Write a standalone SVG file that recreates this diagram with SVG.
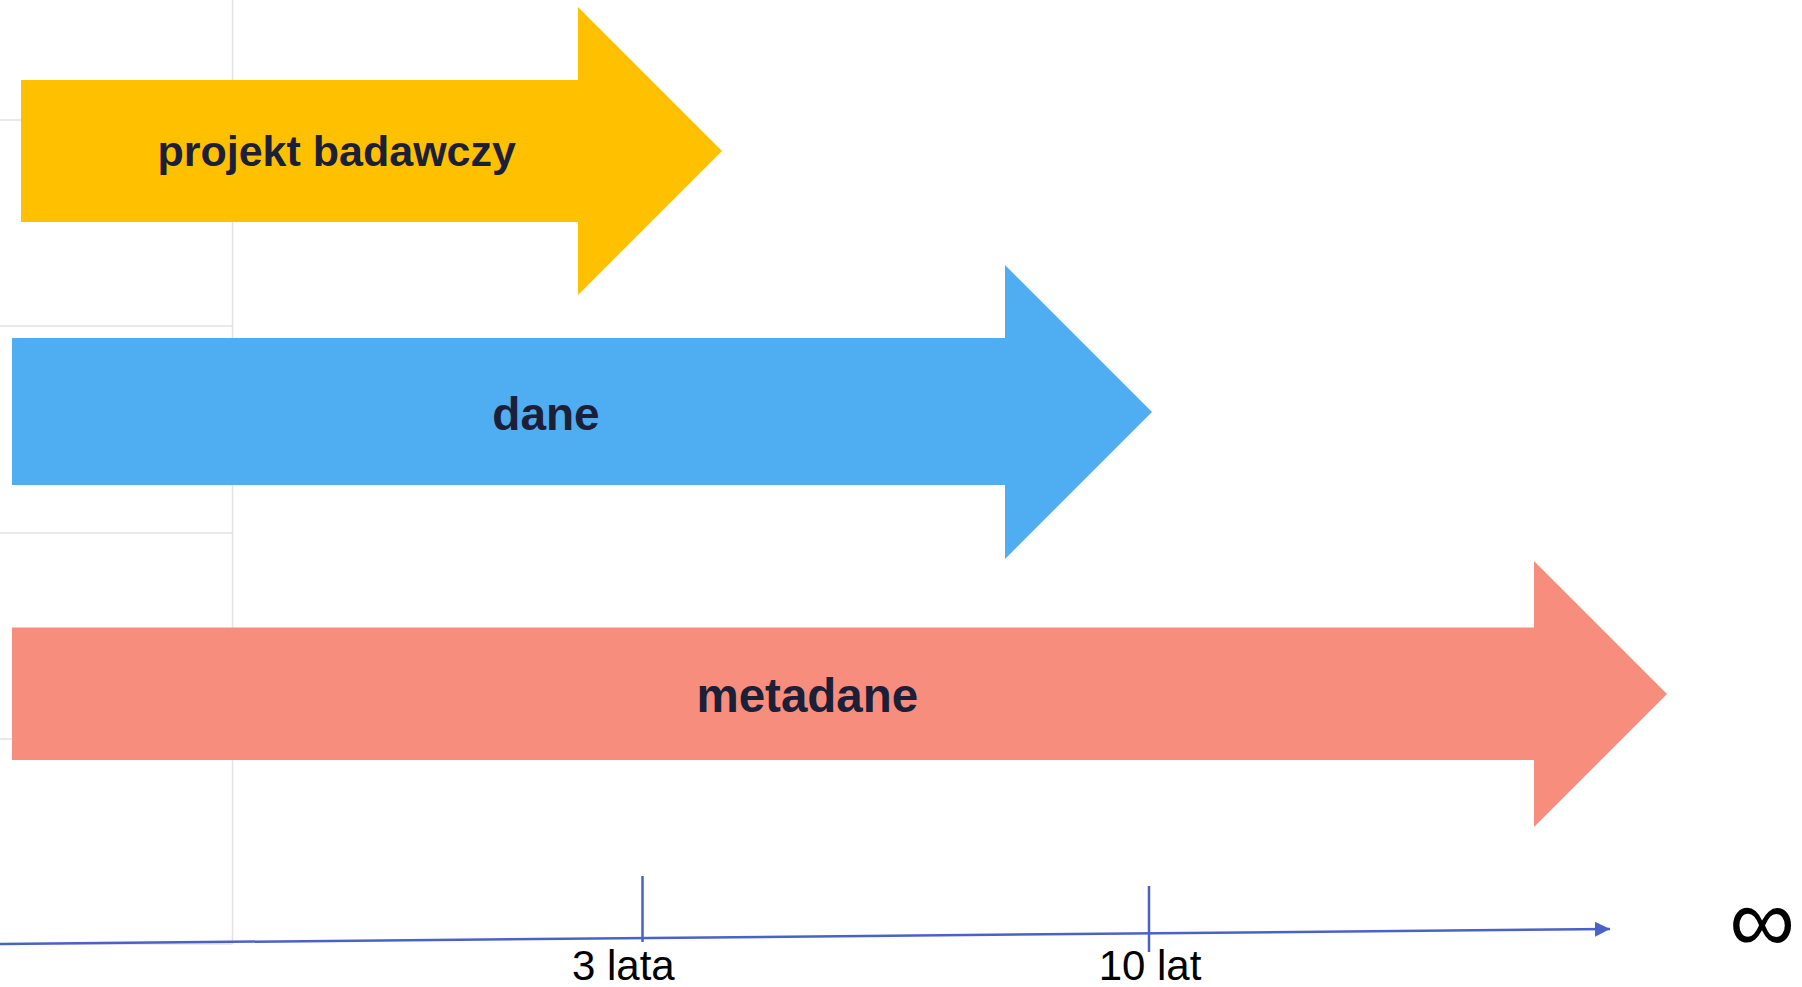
<svg xmlns="http://www.w3.org/2000/svg" width="1802" height="987" viewBox="0 0 1802 987">
  <style>
    .grid { stroke: #e2e2e2; stroke-width: 1.5; fill: none; }
    .lbl { font-family: "Liberation Sans", Arial, sans-serif; font-weight: bold; fill: #1b2038; text-anchor: middle; }
    .axis { stroke: #4a62c8; stroke-width: 2.5; fill: none; }
    .tick { font-family: "Liberation Sans", Arial, sans-serif; font-size: 42px; fill: #000; text-anchor: middle; }
  </style>
  <defs>
    <marker id="ah" markerWidth="8" markerHeight="8" refX="6" refY="3" orient="auto" markerUnits="strokeWidth">
      <path d="M0,0 L6,3 L0,6 Z" fill="#4a62c8"/>
    </marker>
  </defs>
  <rect width="1802" height="987" fill="#ffffff"/>
  <g id="grid">
    <line class="grid" x1="232.5" y1="0" x2="232.5" y2="944"/>
    <line class="grid" x1="0" y1="120" x2="232.5" y2="120"/>
    <line class="grid" x1="0" y1="326" x2="232.5" y2="326"/>
    <line class="grid" x1="0" y1="533" x2="232.5" y2="533"/>
    <line class="grid" x1="0" y1="739" x2="232.5" y2="739"/>
    <line class="grid" x1="0" y1="944" x2="232.5" y2="944"/>
  </g>
  <g id="projekt">
    <polygon points="21,80 578,80 578,7 722,151 578,295 578,222 21,222" fill="#ffc000"/>
    <text class="lbl" x="336.7" y="166" font-size="43">projekt badawczy</text>
  </g>
  <g id="dane">
    <polygon points="12,338 1005,338 1005,265 1152,412 1005,559 1005,485 12,485" fill="#4faef2"/>
    <text class="lbl" x="546" y="430" font-size="46">dane</text>
  </g>
  <g id="metadane">
    <polygon points="12,627.5 1534,627.5 1534,561 1667,694 1534,827 1534,760 12,760" fill="#f68d7d"/>
    <text class="lbl" x="807.3" y="712" font-size="47.5">metadane</text>
  </g>
  <g id="connectors">
    <line class="axis" x1="0" y1="944" x2="1610" y2="929" marker-end="url(#ah)"/>
    <line class="axis" x1="642.5" y1="876" x2="642.5" y2="942"/>
    <line class="axis" x1="1149" y1="886" x2="1149" y2="952"/>
  </g>
  <g id="labels">
    <text class="tick" x="623.3" y="980">3 lata</text>
    <text class="tick" x="1150" y="980">10 lat</text>
    <text x="1762" y="952" font-family="Liberation Sans, Arial, sans-serif" font-size="92" text-anchor="middle" fill="#000">∞</text>
  </g>
</svg>
